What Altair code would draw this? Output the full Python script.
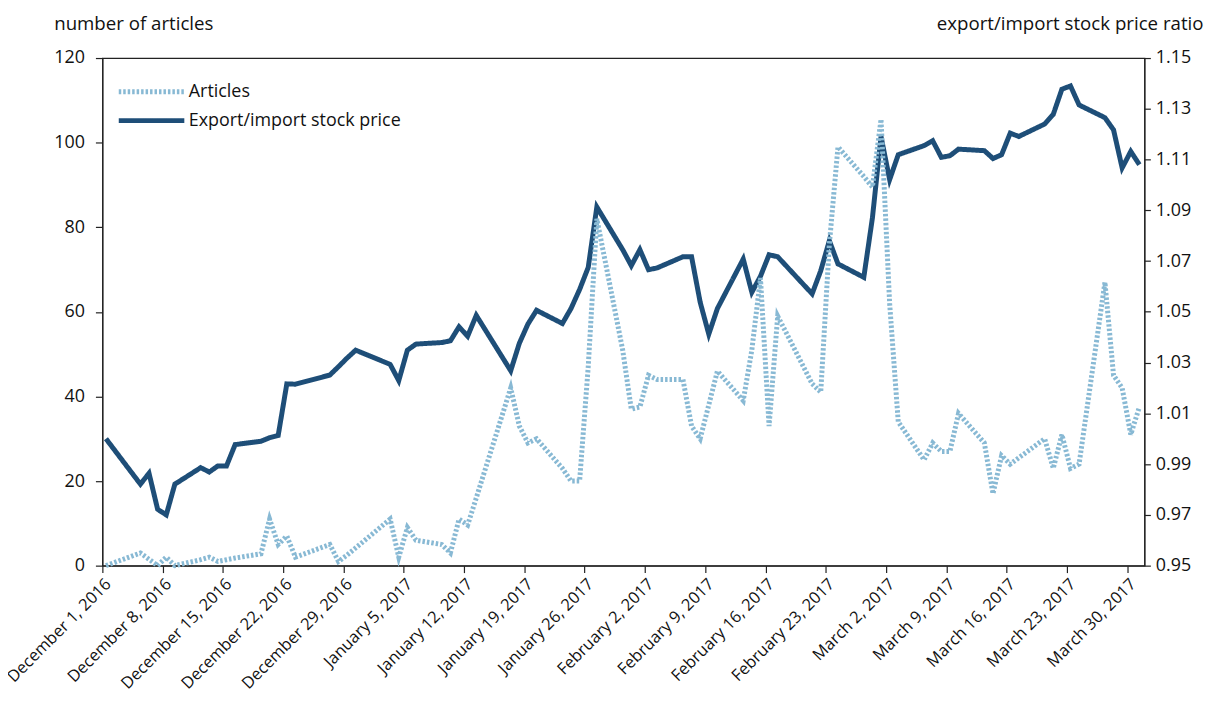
import altair as alt
import pandas as pd

# trading days shown (2016-12-01 .. 2017-03-31)
dates = [
    "2016-12-01", "2016-12-05", "2016-12-06", "2016-12-07", "2016-12-08", "2016-12-09",
    "2016-12-12", "2016-12-13", "2016-12-14", "2016-12-15", "2016-12-16",
    "2016-12-19", "2016-12-20", "2016-12-21", "2016-12-22", "2016-12-23",
    "2016-12-27", "2016-12-28", "2016-12-29", "2016-12-30",
    "2017-01-03", "2017-01-04", "2017-01-05", "2017-01-06",
    "2017-01-09", "2017-01-10", "2017-01-11", "2017-01-12", "2017-01-13",
    "2017-01-17", "2017-01-18", "2017-01-19", "2017-01-20",
    "2017-01-23", "2017-01-24", "2017-01-25", "2017-01-26", "2017-01-27",
    "2017-01-30", "2017-01-31", "2017-02-01", "2017-02-02", "2017-02-03",
    "2017-02-06", "2017-02-07", "2017-02-08", "2017-02-09", "2017-02-10",
    "2017-02-13", "2017-02-14", "2017-02-15", "2017-02-16", "2017-02-17",
    "2017-02-21", "2017-02-22", "2017-02-23", "2017-02-24",
    "2017-02-27", "2017-02-28", "2017-03-01", "2017-03-02", "2017-03-03",
    "2017-03-06", "2017-03-07", "2017-03-08", "2017-03-09", "2017-03-10",
    "2017-03-13", "2017-03-14", "2017-03-15", "2017-03-16", "2017-03-17",
    "2017-03-20", "2017-03-21", "2017-03-22", "2017-03-23", "2017-03-24",
    "2017-03-27", "2017-03-28", "2017-03-29", "2017-03-30", "2017-03-31",
]

articles = [
    0, 3, 1.5, 0, 2, 0,
    1.4, 2, 1, 1.4, 1.8,
    2.8, 11, 5, 7, 2,
    5, 1, 2.5, 4.2,
    11, 2, 9, 6,
    5, 3, 11, 9.6, 16,
    42, 33, 29, 30,
    23, 20, 20, 47, 82,
    51, 37, 37.5, 45, 44,
    44, 33, 30, 38, 46,
    39, 51, 68, 33, 59,
    43, 41, 76, 99,
    92, 89.5, 105.5, 62, 34,
    25, 29, 27, 27, 36,
    29, 17, 26, 24, 25.5,
    30, 23, 31, 23, 24,
    67, 45, 42, 31, 37.5,
]

ratio = [
    1.0000, 0.9821, 0.9864, 0.9722, 0.9700, 0.9821,
    0.9886, 0.9869, 0.9893, 0.9893, 0.9977,
    0.9990, 1.0004, 1.0013, 1.0216, 1.0215,
    1.0251, 1.0284, 1.0318, 1.0349,
    1.0293, 1.0229, 1.0349, 1.0373,
    1.0379, 1.0386, 1.0441, 1.0404, 1.0486,
    1.0268, 1.0376, 1.0452, 1.0506,
    1.0454, 1.0513, 1.0588, 1.0675, 1.0913,
    1.0745, 1.0682, 1.0745, 1.0666, 1.0673,
    1.0717, 1.0717, 1.0538, 1.0412, 1.0513,
    1.0708, 1.0577, 1.0640, 1.0725, 1.0717,
    1.0571, 1.0662, 1.0780, 1.0689,
    1.0636, 1.0870, 1.1191, 1.1021, 1.1119,
    1.1155, 1.1174, 1.1109, 1.1115, 1.1141,
    1.1135, 1.1104, 1.1119, 1.1204, 1.1191,
    1.1240, 1.1278, 1.1377, 1.1390, 1.1315,
    1.1265, 1.1217, 1.1067, 1.1132, 1.1080,
]

series_names = ["Articles", "Export/import stock price"]
series_colors = ["#88b9d4", "#1e4e78"]
series_dash = [[2.5, 2], [1, 0]]

left_ticks = [0, 20, 40, 60, 80, 100, 120]
right_ticks = [0.95, 0.97, 0.99, 1.01, 1.03, 1.05, 1.07, 1.09, 1.11, 1.13, 1.15]
x_tick_dates = [
    (2016, 12, 1), (2016, 12, 8), (2016, 12, 15), (2016, 12, 22), (2016, 12, 29),
    (2017, 1, 5), (2017, 1, 12), (2017, 1, 19), (2017, 1, 26),
    (2017, 2, 2), (2017, 2, 9), (2017, 2, 16), (2017, 2, 23),
    (2017, 3, 2), (2017, 3, 9), (2017, 3, 16), (2017, 3, 23), (2017, 3, 30),
]

FONT = "Open Sans"

stamp = [d + "T10:00:00" for d in dates]
df_a = pd.DataFrame({"date": stamp, "value": articles, "series": series_names[0]})
df_r = pd.DataFrame({"date": stamp, "value": ratio, "series": series_names[1]})

x_enc = alt.X(
    "date:T",
    scale=alt.Scale(domain=[alt.DateTime(year=2016, month=12, date=1),
                            alt.DateTime(year=2017, month=4, date=1)]),
    axis=alt.Axis(
        values=[alt.DateTime(year=y, month=m, date=d) for (y, m, d) in x_tick_dates],
        format="%B %-d, %Y", labelAngle=-45, labelAlign="right", labelBaseline="top",
        labelOverlap=False, labelBound=False, labelFontSize=16.5,
        tickSize=7, labelPadding=3, title=None, grid=False,
    ),
)

# long horizontal stroke symbol drawn to the left of the nominal symbol box
legend_opts = dict(
    title=None, orient="none", legendX=47, legendY=15,
    symbolType="M-3,0H1", symbolSize=1089, symbolStrokeWidth=5,
    labelFontSize=18, labelFont=FONT, labelColor="#111", labelOffset=2,
    rowPadding=-1, labelLimit=400,
)

color_enc = alt.Color(
    "series:N",
    scale=alt.Scale(domain=series_names, range=series_colors),
    legend=alt.Legend(**legend_opts),
)
dash_enc = alt.StrokeDash(
    "series:N",
    scale=alt.Scale(domain=series_names, range=series_dash),
    legend=alt.Legend(**legend_opts),
)

ratio_line = alt.Chart(df_r).mark_line(strokeWidth=5, strokeJoin="miter", strokeCap="butt").encode(
    x=x_enc,
    y=alt.Y("value:Q",
            scale=alt.Scale(domain=[0.95, 1.15], nice=False, zero=False),
            axis=alt.Axis(orient="right", values=right_ticks, format=".2f",
                          tickSize=6, labelPadding=5, grid=False,
                          title="export/import stock price ratio", titleAngle=0,
                          titleAlign="right", titleBaseline="alphabetic",
                          titleX=59, titleY=-29)),
    color=color_enc,
    strokeDash=dash_enc,
)

articles_line = alt.Chart(df_a).mark_line(strokeWidth=5, strokeCap="butt").encode(
    x=x_enc,
    y=alt.Y("value:Q",
            scale=alt.Scale(domain=[0, 120], nice=False),
            axis=alt.Axis(orient="left", values=left_ticks, tickSize=7, labelPadding=11,
                          grid=False,
                          title="number of articles", titleAngle=0, titleAlign="left",
                          titleBaseline="alphabetic", titleX=-49, titleY=-29)),
    color=color_enc,
    strokeDash=dash_enc,
)

chart = (
    alt.layer(ratio_line, articles_line)
    .resolve_scale(y="independent")
    .properties(
        width=1049, height=511,
        padding={"left": 95, "top": 48, "right": 61, "bottom": 150},
        autosize=alt.AutoSizeParams(type="none"),
    )
    .configure_view(stroke="#222", strokeWidth=1.2)
    .configure_axis(
        labelFont=FONT, labelFontSize=18, labelColor="#111",
        titleFont=FONT, titleFontSize=18.8, titleFontWeight="normal", titleColor="#111",
        domainColor="#222", domainWidth=1.2, tickColor="#222", tickWidth=1.2,
    )
)

chart.save("out.html", embed_options={"renderer": "svg", "actions": False})
